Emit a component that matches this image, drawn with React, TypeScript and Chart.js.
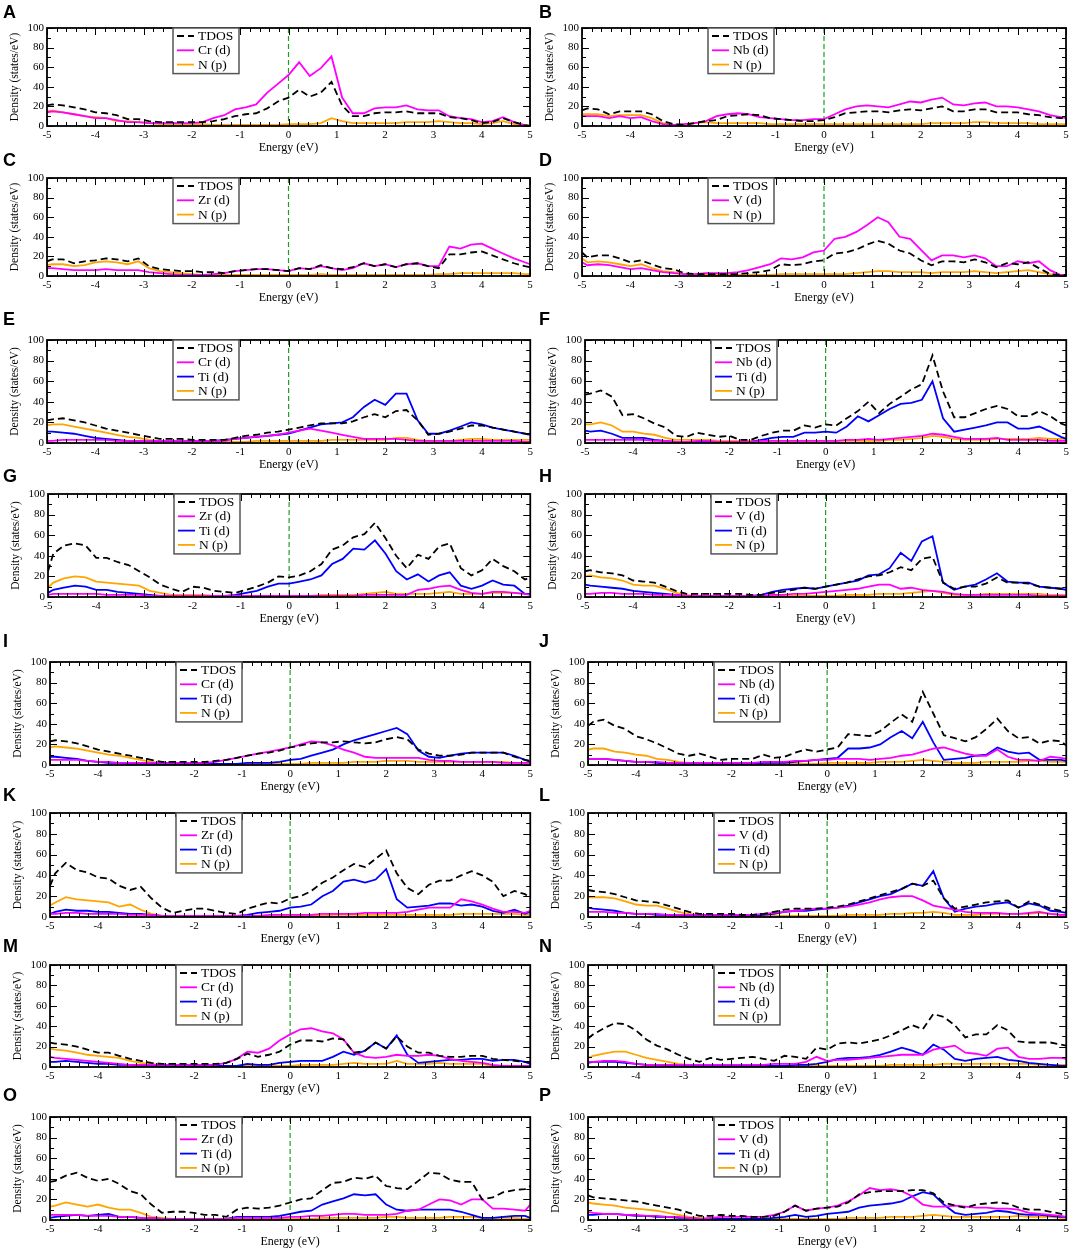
import React, { useEffect, useRef } from "react";
import { Chart, registerables } from "chart.js";

Chart.register(...registerables);

// energy grid (eV)
const energy = [
  -5, -4.89, -4.67, -4.44, -4.22, -4, -3.78, -3.56, -3.33, -3.11,
  -2.89, -2.67, -2.44, -2.22, -2, -1.78, -1.56, -1.33, -1.11, -0.89,
  -0.67, -0.44, -0.22, 0, 0.22, 0.44, 0.67, 0.89, 1.11, 1.33,
  1.56, 1.78, 2, 2.22, 2.44, 2.67, 2.89, 3.11, 3.33, 3.56,
  3.78, 4, 4.22, 4.44, 4.67, 4.89, 5,
];

const xTicks = [-5, -4, -3, -2, -1, 0, 1, 2, 3, 4, 5];
const yTicks = [0, 20, 40, 60, 80, 100];

// A
const tdosA = [21,22,21,19,17,14,13,11,7,7, 5,4,4,4,4,4,5,7,10,12, 13,18,25,29,37,30,34,45,21,10, 10,13,14,14,15,13,13,13,9,8, 6,3,4,8,4,1,0];
const crA = [14,15,14,12,10,8,8,6,4,4, 3,3,3,3,3,4,8,11,17,19, 22,34,43,52,65,51,59,71,29,13, 13,18,19,19,21,17,16,16,10,8, 7,4,5,9,4,1,0];
const npA = [15,16,14,12,10,9,8,5,5,4, 3,2,2,2,2,2,1,1,1,1, 1,1,1,2,2,2,3,8,5,3, 3,3,3,3,4,4,4,5,4,3, 3,2,3,5,2,1,0];
// B
const tdosB = [16,18,17,12,15,15,15,12,5,2, 1,3,5,6,10,11,12,11,8,7, 6,5,5,6,9,13,14,15,15,14, 16,17,16,18,20,15,15,17,17,14, 14,14,12,11,9,8,8];
const nbB = [10,10,10,8,10,8,9,5,2,1, 2,3,5,10,12,13,12,9,8,7, 6,6,7,7,12,17,20,21,20,19, 22,25,24,27,29,22,21,23,24,20, 20,19,17,15,11,9,8];
const npB = [12,12,12,10,11,11,11,8,3,1, 2,3,4,3,3,3,3,3,2,2, 2,2,2,2,2,2,2,2,2,2, 2,2,2,3,3,3,3,4,4,3, 3,3,3,2,2,2,2];
// C
const tdosC = [15,17,17,13,15,16,18,17,15,18, 10,7,6,5,5,4,4,3,5,6, 7,7,6,5,8,7,11,8,7,9, 13,10,12,9,12,13,10,8,22,22, 24,25,21,17,13,10,9];
const zrC = [8,8,7,6,6,6,7,6,6,6, 4,3,2,1,1,1,2,3,5,6, 7,7,6,5,8,7,10,8,6,8, 13,10,12,9,12,13,10,10,30,28, 32,33,28,23,18,14,12];
const npC = [11,12,12,10,11,14,15,14,12,15, 8,5,4,3,2,1,1,1,1,1, 1,1,1,1,1,1,2,1,1,1, 1,1,1,1,1,1,1,2,2,3, 3,3,3,3,3,2,2];
// D
const tdosD = [24,19,21,21,18,14,16,12,8,7, 3,2,2,2,2,2,3,4,6,12, 11,12,15,16,23,24,27,32,36,33, 26,23,16,11,15,15,14,17,14,9, 13,12,14,8,2,1,1];
const vD = [14,11,12,11,9,7,8,6,4,3, 2,2,3,3,3,4,6,9,12,18, 17,19,24,26,38,40,45,52,60,55, 40,38,27,16,21,21,19,21,18,10, 10,15,13,15,6,1,1];
const npD = [18,14,15,14,12,10,12,8,5,4, 2,1,1,1,1,1,1,1,1,2, 2,2,2,2,2,2,3,4,5,5, 4,4,4,3,4,4,4,5,4,3, 4,5,6,4,2,1,1];
// E
const tdosE = [22,23,24,22,20,17,14,12,10,8, 6,4,4,4,3,3,3,3,5,7, 8,10,11,13,15,17,19,19,19,21, 25,28,25,31,32,22,8,9,11,14, 17,17,15,13,11,9,8];
const crE = [2,2,3,3,3,3,3,2,2,2, 2,2,2,2,2,2,2,2,4,5, 6,7,8,10,12,14,12,10,8,6, 4,4,4,4,3,2,2,2,2,2, 2,2,2,2,2,1,1];
const tiE = [11,11,10,9,7,5,4,3,2,2, 2,2,2,2,2,2,2,3,4,5, 6,7,8,9,12,15,18,19,20,25, 35,42,37,48,48,22,9,9,12,16, 20,18,15,13,11,9,8];
const npE = [17,18,18,16,14,12,10,8,6,5, 3,2,2,2,1,1,1,1,1,1, 2,2,2,2,2,2,2,3,3,3, 3,3,3,5,5,3,2,2,2,3, 4,4,3,3,3,3,3];
// F
const tdosF = [47,48,51,45,27,28,24,19,15,7, 6,10,8,6,7,3,3,7,10,12, 12,17,15,18,17,24,31,40,29,38, 45,52,57,85,50,25,25,29,33,36, 33,26,26,31,26,19,17];
const nbF = [3,3,3,3,3,3,3,2,2,1, 1,2,2,1,1,1,1,2,2,2, 2,2,2,2,2,3,3,4,3,4, 5,6,7,9,8,6,4,4,4,5, 3,3,3,3,2,2,2];
const tiF = [12,11,12,9,5,5,5,3,2,1, 1,1,1,1,1,1,1,3,5,6, 6,10,10,11,10,16,26,21,27,33, 38,39,42,60,24,11,13,15,17,20, 20,14,14,16,11,6,4];
const npF = [18,18,20,17,11,11,9,8,5,3, 3,3,3,2,2,2,2,2,2,2, 2,2,2,2,2,2,2,2,2,3, 3,4,5,7,6,4,3,3,3,4, 4,4,4,5,4,4,4];
// G
const tdosG = [25,42,50,52,50,38,38,34,31,25, 19,12,8,5,10,9,6,5,4,7, 10,14,20,19,21,25,32,46,50,58, 61,72,57,40,28,41,37,49,52,28, 21,26,37,30,25,17,19];
const zrG = [2,3,3,3,3,3,2,2,2,2, 1,1,1,1,1,1,1,1,1,1, 1,1,1,1,1,1,1,1,1,1, 2,2,2,2,2,7,8,10,11,7, 4,3,5,5,4,3,2];
const tiG = [4,7,9,11,10,7,7,5,4,3, 2,1,1,1,1,1,1,1,2,4, 6,10,13,13,15,17,21,32,37,47, 46,55,42,25,17,22,15,21,24,11, 8,11,16,12,11,3,3];
const npG = [9,14,18,20,19,15,14,13,12,11, 6,4,2,2,2,2,1,1,1,1, 1,1,1,1,1,1,2,2,2,2, 3,4,5,3,3,3,3,4,5,3, 3,3,4,4,4,3,3];
// H
const tdosH = [25,26,24,23,21,16,15,14,10,6, 3,3,3,3,3,3,2,2,4,5, 7,9,8,10,12,14,17,20,21,24, 29,26,37,39,14,8,10,10,13,19, 14,14,13,10,9,8,7];
const vH = [3,3,4,4,3,3,3,2,2,2, 1,1,1,1,1,1,1,1,2,2, 3,3,4,5,6,7,8,10,12,12, 8,9,7,6,5,3,2,2,2,2, 2,2,2,1,1,1,1];
const tiH = [12,11,10,9,8,6,5,4,3,2, 1,1,1,1,1,1,1,2,5,7, 8,9,8,10,12,14,16,21,22,28, 43,35,54,59,14,7,10,12,17,23, 15,14,14,10,9,8,7];
const npH = [20,21,19,18,16,12,11,11,8,4, 2,1,1,1,1,1,1,1,1,1, 1,1,1,1,1,2,2,2,3,3, 3,4,5,6,4,2,2,2,3,3, 3,3,3,3,2,2,2];
// I
const tdosI = [23,24,23,21,18,15,13,11,9,7, 5,3,3,3,3,3,4,5,7,9, 11,12,14,17,19,21,22,22,23,22, 21,22,25,27,25,15,11,9,9,10, 12,12,12,12,8,5,4];
const crI = [5,5,5,5,4,3,3,2,2,2, 2,2,2,2,2,2,3,5,7,9, 11,13,15,17,20,23,22,19,15,12, 8,7,7,7,7,7,5,4,4,3, 3,3,3,2,2,2,2];
const tiI = [8,8,7,6,4,3,2,2,1,1, 1,1,1,1,1,1,1,1,1,2, 2,2,3,5,6,9,12,15,20,24, 27,30,33,36,30,14,8,7,9,11, 12,12,12,12,9,5,3];
const npI = [17,18,17,16,14,12,10,9,7,5, 3,2,1,1,1,1,1,1,1,1, 1,1,1,1,1,2,2,2,2,3, 3,3,4,4,4,3,3,3,3,3, 3,3,3,3,2,2,2];
// J
const tdosJ = [38,42,44,38,35,28,25,21,16,11, 9,11,8,5,6,6,6,10,7,8, 12,15,13,15,17,30,29,28,33,41, 49,42,71,50,29,26,23,27,35,45, 33,26,27,21,24,23,19];
const nbJ = [6,6,6,5,4,3,3,3,2,2, 2,2,2,2,2,2,2,3,3,3, 4,4,5,5,6,6,6,5,6,7, 9,10,13,16,17,14,11,9,9,15, 8,5,5,4,8,7,6];
const tiJ = [6,6,6,5,4,3,3,2,1,1, 1,1,1,1,1,1,1,2,2,2, 3,4,5,6,7,16,16,17,20,27, 33,26,42,22,5,6,7,9,10,17, 13,11,12,5,5,5,4];
const npJ = [15,16,16,13,12,10,9,6,5,3, 2,2,2,1,1,1,1,1,1,1, 1,1,1,2,2,2,2,2,3,3, 3,4,5,4,3,2,2,2,3,3, 3,3,4,4,3,3,3];
// K
const tdosK = [30,42,52,45,43,38,37,30,26,29, 18,9,4,6,8,8,6,4,3,8, 11,14,13,18,20,25,33,38,45,51, 48,56,64,42,28,22,31,35,35,40, 44,40,34,20,25,22,18];
const zrK = [3,3,4,4,3,3,3,3,2,2, 2,1,1,1,1,1,1,1,1,1, 1,2,2,2,2,2,3,3,3,3, 4,4,4,4,5,7,9,9,9,17, 15,12,8,5,5,4,6];
const tiK = [3,5,7,6,6,5,5,4,3,3, 2,1,1,1,1,1,1,1,1,2, 4,5,6,9,10,12,20,25,34,36, 33,36,46,17,9,10,11,13,13,11, 12,10,6,4,7,3,5];
const npK = [11,14,19,17,16,15,14,10,12,7, 3,1,1,1,1,1,1,1,1,1, 1,1,1,1,1,1,1,2,2,2, 2,2,2,2,2,2,2,2,2,3, 3,3,3,3,3,2,2];
// L
const tdosL = [26,25,24,22,19,16,15,14,11,8, 5,3,3,3,3,2,2,3,5,7, 8,8,8,9,10,12,15,18,21,24, 27,32,30,35,18,8,10,12,14,15, 16,9,15,12,8,6,5];
const vL = [5,5,5,4,4,3,3,3,2,2, 2,2,2,2,2,2,2,3,4,5, 6,7,8,8,9,10,12,14,17,19, 20,20,16,11,9,7,5,4,4,4, 3,3,4,5,3,2,2];
const tiL = [9,8,7,6,4,3,3,2,2,1, 1,1,1,1,1,1,1,2,3,5, 6,6,7,8,9,11,14,17,20,22, 27,32,30,44,18,5,8,10,11,13, 14,9,13,11,6,5,4];
const npL = [19,19,19,18,15,12,11,11,8,5, 3,2,1,1,1,1,1,1,1,1, 1,1,1,1,1,2,2,2,2,3, 3,4,4,5,4,2,2,2,3,3, 3,3,3,4,3,2,2];
// M
const tdosM = [24,23,22,20,17,14,14,11,8,6, 4,3,3,3,3,3,3,4,8,13, 10,12,15,22,26,26,25,28,27,14, 16,24,18,30,20,14,14,11,10,10, 11,11,8,7,6,5,5];
const crM = [10,9,8,7,6,5,4,3,2,2, 2,2,2,2,2,2,2,4,8,15, 14,18,26,32,37,38,35,33,27,14, 10,9,10,12,11,11,12,11,8,6, 5,4,2,1,1,1,1];
const tiM = [5,5,6,5,4,3,3,2,2,1, 1,1,1,1,1,1,1,1,1,3, 2,2,4,5,6,6,6,10,15,12, 16,24,18,31,12,4,5,6,7,7, 8,8,6,7,7,5,3];
const npM = [18,17,16,14,12,11,10,9,6,4, 3,2,1,1,1,1,1,1,1,1, 1,1,1,1,2,2,2,2,3,4, 3,3,3,6,3,3,3,4,3,3, 3,3,1,1,1,1,1];
// N
const tdosN = [28,32,38,43,42,36,27,21,17,12, 8,5,9,7,8,9,10,8,6,11, 10,8,19,17,23,24,23,25,27,31, 36,41,37,52,49,41,29,32,32,41, 36,25,24,24,24,22,21];
const nbN = [5,5,6,6,5,3,2,2,2,2, 2,2,2,2,2,2,2,2,3,3, 3,5,10,6,7,7,8,9,10,11, 12,12,12,17,19,21,14,13,11,18, 19,10,8,8,9,9,8];
const tiN = [4,5,5,5,4,3,2,2,1,1, 1,1,1,1,1,1,1,1,1,1, 2,2,3,5,8,9,9,10,12,15, 19,16,12,22,17,8,6,8,9,10, 7,6,4,3,2,1,1];
const npN = [9,11,13,15,15,12,9,7,5,3, 2,1,1,1,1,1,1,1,1,1, 1,1,1,1,1,1,1,1,1,2, 2,2,2,2,3,3,3,3,3,3, 3,3,3,2,2,2,2];
// O
const tdosO = [37,38,43,46,41,38,40,35,28,25, 15,7,8,8,7,5,5,3,10,12, 11,12,14,17,20,21,29,36,37,41, 40,43,33,31,30,38,46,45,39,37, 37,20,22,27,29,30,33];
const zrO = [5,5,5,5,4,4,4,3,3,2, 2,1,1,1,1,1,1,1,2,2, 2,2,2,3,3,4,4,5,6,6, 5,5,5,6,9,10,15,20,19,15, 20,20,11,11,10,9,15];
const tiO = [2,3,4,5,4,5,6,3,3,2, 2,1,1,1,1,1,1,1,3,3, 3,3,4,6,8,9,15,18,21,25, 24,25,15,10,9,10,10,10,10,8, 5,2,2,3,4,4,2];
const npO = [13,14,17,15,13,15,12,10,10,7, 3,2,1,1,1,1,1,1,1,1, 1,1,1,1,1,1,2,2,2,2, 2,2,3,3,2,2,2,2,3,3, 3,2,2,2,2,1,1];
// P
const tdosP = [24,22,21,20,19,18,16,14,12,10, 7,4,4,5,4,4,3,3,4,8, 14,9,11,12,13,17,25,27,28,28, 28,29,29,26,17,14,12,15,16,17, 16,12,10,10,8,6,5];
const vP = [8,7,6,6,5,5,4,4,3,3, 2,1,2,3,3,3,3,3,5,8, 14,9,11,12,14,18,24,31,29,30, 28,23,15,13,13,14,13,12,12,11, 11,10,7,6,5,4,3];
const tiP = [5,5,6,6,5,4,4,3,3,2, 2,1,1,1,1,1,1,1,2,3, 5,3,4,6,7,8,12,14,15,16, 18,23,27,25,15,7,5,6,7,9, 8,6,5,5,4,3,3];
const npP = [17,16,15,14,12,11,10,9,7,5, 3,2,1,1,1,1,1,1,1,1, 1,1,1,1,1,2,2,2,2,3, 3,3,4,5,4,3,3,3,3,3, 3,4,3,3,3,2,2];

const SERIF = "'Liberation Serif', 'Times New Roman', serif";
Chart.defaults.font.family = SERIF;
Chart.defaults.color = "#000";

type Curve = { label: string; values: number[]; color: string; dashed?: boolean };

const tdos = (v: number[]): Curve => ({ label: "TDOS", values: v, color: "#000000", dashed: true });
const metal = (name: string, v: number[]): Curve => ({ label: `${name} (d)`, values: v, color: "#ff00ff" });
const ti = (v: number[]): Curve => ({ label: "Ti (d)", values: v, color: "#0000ff" });
const np = (v: number[]): Curve => ({ label: "N (p)", values: v, color: "#ffa500" });

type PanelDef = { letter: string; row: number; col: number; curves: Curve[] };

const panels: PanelDef[] = [
  { letter: "A", row: 0, col: 0, curves: [tdos(tdosA), metal("Cr", crA), np(npA)] },
  { letter: "B", row: 0, col: 1, curves: [tdos(tdosB), metal("Nb", nbB), np(npB)] },
  { letter: "C", row: 1, col: 0, curves: [tdos(tdosC), metal("Zr", zrC), np(npC)] },
  { letter: "D", row: 1, col: 1, curves: [tdos(tdosD), metal("V", vD), np(npD)] },
  { letter: "E", row: 2, col: 0, curves: [tdos(tdosE), metal("Cr", crE), ti(tiE), np(npE)] },
  { letter: "F", row: 2, col: 1, curves: [tdos(tdosF), metal("Nb", nbF), ti(tiF), np(npF)] },
  { letter: "G", row: 3, col: 0, curves: [tdos(tdosG), metal("Zr", zrG), ti(tiG), np(npG)] },
  { letter: "H", row: 3, col: 1, curves: [tdos(tdosH), metal("V", vH), ti(tiH), np(npH)] },
  { letter: "I", row: 4, col: 0, curves: [tdos(tdosI), metal("Cr", crI), ti(tiI), np(npI)] },
  { letter: "J", row: 4, col: 1, curves: [tdos(tdosJ), metal("Nb", nbJ), ti(tiJ), np(npJ)] },
  { letter: "K", row: 5, col: 0, curves: [tdos(tdosK), metal("Zr", zrK), ti(tiK), np(npK)] },
  { letter: "L", row: 5, col: 1, curves: [tdos(tdosL), metal("V", vL), ti(tiL), np(npL)] },
  { letter: "M", row: 6, col: 0, curves: [tdos(tdosM), metal("Cr", crM), ti(tiM), np(npM)] },
  { letter: "N", row: 6, col: 1, curves: [tdos(tdosN), metal("Nb", nbN), ti(tiN), np(npN)] },
  { letter: "O", row: 7, col: 0, curves: [tdos(tdosO), metal("Zr", zrO), ti(tiO), np(npO)] },
  { letter: "P", row: 7, col: 1, curves: [tdos(tdosP), metal("V", vP), ti(tiP), np(npP)] },
];

// page layout (pixels): plot box per row, [left, right] per column
const ROWS = [
  { top: 28, bottom: 126, letterY: 12, x: [[47, 530], [582, 1066]] },
  { top: 178, bottom: 276, letterY: 160, x: [[47, 530], [582, 1066]] },
  { top: 340, bottom: 443, letterY: 319, x: [[47, 531], [585, 1067]] },
  { top: 494, bottom: 597, letterY: 476, x: [[48, 531], [585, 1067]] },
  { top: 662, bottom: 765, letterY: 641, x: [[50, 532], [588, 1068]] },
  { top: 813, bottom: 917, letterY: 795, x: [[50, 532], [588, 1068]] },
  { top: 965, bottom: 1067, letterY: 946, x: [[50, 532], [588, 1068]] },
  { top: 1117, bottom: 1220, letterY: 1095, x: [[50, 532], [588, 1068]] },
];
const CANVAS_LEFT = [0, 536];
const LETTER_X = [3, 539];
const CANVAS_W = 536;
const PAD_TOP = 10;
const X_AXIS_H = 36;
const YTITLE_SIZE = 11.5;

// frame, inward ticks and Fermi-level line
const framePlugin = {
  id: "xmFrame",
  beforeDatasetsDraw(chart: any) {
    const { ctx, chartArea: a, scales } = chart;
    const x0 = scales.x.getPixelForValue(0);
    ctx.save();
    ctx.strokeStyle = "#1ea01e";
    ctx.lineWidth = 1.2;
    ctx.setLineDash([5, 3]);
    ctx.beginPath();
    ctx.moveTo(x0, a.top);
    ctx.lineTo(x0, a.bottom);
    ctx.stroke();
    ctx.restore();
  },
  afterDatasetsDraw(chart: any) {
    const { ctx, chartArea: a, scales } = chart;
    const { x, y } = scales;
    ctx.save();
    ctx.strokeStyle = "#000";
    ctx.lineWidth = 1;
    ctx.beginPath();
    for (let k = -25; k <= 25; k++) {
      const px = Math.round(x.getPixelForValue(k / 5)) + 0.5;
      const len = k % 5 === 0 ? 7 : 4;
      ctx.moveTo(px, a.bottom);
      ctx.lineTo(px, a.bottom - len);
      ctx.moveTo(px, a.top);
      ctx.lineTo(px, a.top + len);
    }
    for (let v = 0; v <= 100; v += 10) {
      const py = Math.round(y.getPixelForValue(v)) + 0.5;
      const len = v % 20 === 0 ? 7 : 4;
      ctx.moveTo(a.left, py);
      ctx.lineTo(a.left + len, py);
      ctx.moveTo(a.right, py);
      ctx.lineTo(a.right - len, py);
    }
    ctx.stroke();
    ctx.lineWidth = 1.8;
    ctx.strokeRect(a.left, a.top, a.right - a.left, a.bottom - a.top);
    ctx.restore();
  },
};

// boxed legend like the xmgrace one
const legendPlugin = {
  id: "boxLegend",
  afterDraw(chart: any) {
    const { ctx, chartArea: a } = chart;
    const items = chart.data.datasets;
    const bx = a.left + 126;
    const by = a.top;
    const w = 66;
    const rowH = 14.3;
    const h = 8 + rowH * (items.length - 1) + 9;
    ctx.save();
    ctx.fillStyle = "#fff";
    ctx.fillRect(bx, by, w, h);
    ctx.strokeStyle = "#555";
    ctx.lineWidth = 1.5;
    ctx.strokeRect(bx, by, w, h);
    ctx.font = `13.5px ${SERIF}`;
    ctx.textBaseline = "middle";
    items.forEach((d: any, i: number) => {
      const ly = by + 8 + i * rowH;
      ctx.strokeStyle = d.borderColor;
      ctx.lineWidth = 1.8;
      ctx.setLineDash(d.borderDash || []);
      ctx.beginPath();
      ctx.moveTo(bx + 4, ly);
      ctx.lineTo(bx + 21, ly);
      ctx.stroke();
      ctx.setLineDash([]);
      ctx.fillStyle = "#000";
      ctx.fillText(d.label, bx + 25, ly + 0.5);
    });
    ctx.restore();
  },
};

const Panel = ({ def }: { def: PanelDef }) => {
  const canvasRef = useRef<HTMLCanvasElement>(null);
  const row = ROWS[def.row];
  const [plotLeft, plotRight] = row.x[def.col];
  const canvasLeft = CANVAS_LEFT[def.col];
  const axisW = plotLeft - canvasLeft;
  const padRight = canvasLeft + CANVAS_W - plotRight;
  const height = PAD_TOP + (row.bottom - row.top) + X_AXIS_H;
  // y title centre about 32px left of the plot box
  const yTitlePad = Math.max(0, axisW - 32 - (YTITLE_SIZE * 1.2) / 2);

  useEffect(() => {
    if (!canvasRef.current) return;
    const chart = new Chart(canvasRef.current, {
      type: "line",
      data: {
        datasets: def.curves.map(c => ({
          label: c.label,
          data: energy.map((e, i) => ({ x: e, y: c.values[i] })),
          borderColor: c.color,
          borderWidth: 1.8,
          borderDash: c.dashed ? [7, 4] : [],
          pointRadius: 0,
          tension: 0,
          fill: false,
        })),
      },
      options: {
        animation: false,
        responsive: false,
        events: [],
        layout: { padding: { top: PAD_TOP, right: padRight, left: 0, bottom: 0 } },
        plugins: { legend: { display: false }, tooltip: { enabled: false } },
        scales: {
          x: {
            type: "linear",
            min: -5,
            max: 5,
            grid: { display: false, drawTicks: false },
            border: { display: false },
            afterBuildTicks: (s: any) => { s.ticks = xTicks.map(v => ({ value: v })); },
            ticks: { padding: 3, autoSkip: false, maxRotation: 0, color: "#000", font: { size: 11 } },
            title: { display: true, text: "Energy (eV)", color: "#000", font: { size: 12 }, padding: { top: 0, bottom: 7 } },
            afterFit: (s: any) => { s.height = X_AXIS_H; },
          },
          y: {
            min: 0,
            max: 100,
            grid: { display: false, drawTicks: false },
            border: { display: false },
            afterBuildTicks: (s: any) => { s.ticks = yTicks.map(v => ({ value: v })); },
            ticks: { padding: 3, color: "#000", font: { size: 11 } },
            title: {
              display: true,
              text: "Density (states/eV)",
              color: "#000",
              font: { size: YTITLE_SIZE },
              padding: { top: yTitlePad, bottom: 0 },
            },
            afterFit: (s: any) => { s.width = axisW; },
          },
        },
      },
      plugins: [framePlugin, legendPlugin],
    } as any);
    return () => chart.destroy();
  }, [def]);

  return (
    <>
      <canvas
        ref={canvasRef}
        width={CANVAS_W}
        height={height}
        style={{ position: "absolute", left: canvasLeft, top: row.top - PAD_TOP, width: CANVAS_W, height }}
      />
      <div
        style={{
          position: "absolute",
          left: LETTER_X[def.col],
          top: row.letterY - 10,
          font: "bold 18px 'Liberation Sans', Arial, sans-serif",
          lineHeight: "20px",
          color: "#000",
          zIndex: 2,
        }}
      >
        {def.letter}
      </div>
    </>
  );
};

export default function App() {
  return (
    <div style={{ position: "absolute", left: 0, top: 0, width: 1072, height: 1252, background: "#fff", overflow: "hidden" }}>
      {panels.map(p => (
        <Panel key={p.letter} def={p} />
      ))}
    </div>
  );
}
